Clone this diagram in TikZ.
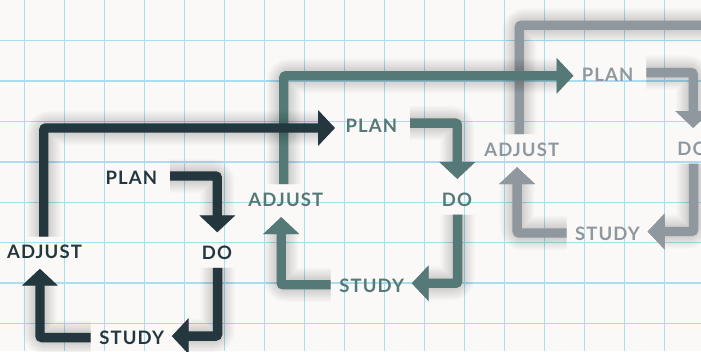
\documentclass[tikz,border=0pt]{standalone}
\usepackage{fontspec}
\setmainfont{Lato}
\usetikzlibrary{arrows.meta,calc}
\definecolor{bgc}{HTML}{FAF9F7}
\definecolor{gridc}{HTML}{A9DDF0}
\definecolor{cA}{HTML}{24373F}
\definecolor{cB}{HTML}{557976}
\definecolor{cC}{HTML}{8F989E}
\tikzset{
  lbl/.style={font=\fontsize{18.5}{18.5}\selectfont\bfseries\addfontfeatures{LetterSpace=6}, inner sep=0pt, text=#1},
  flow/.style={line width=9.3pt, rounded corners=2pt, line cap=butt, -{Triangle[length=17pt,width=35pt]}},
  flowplain/.style={line width=9.3pt, rounded corners=2pt, line cap=butt},
  shadowlayer/.style={draw=black, opacity=0.016, shift={(2.5,5)}, rounded corners=6pt},
  gridline/.style={draw=gridc, line width=1.5pt}
}
\newcommand\pdsaarrow[2]{%
  \foreach \k in {0,...,11}{\draw[flow, shadowlayer, line width=8pt+2.4*\k pt] #2;}
  \draw[flow, draw=#1] #2;}
\newcommand\pdsaline[2]{%
  \foreach \k in {0,...,11}{\draw[flowplain, shadowlayer, line width=8pt+2.4*\k pt] #2;}
  \draw[flowplain, draw=#1] #2;}
\begin{document}
\begin{tikzpicture}[x=1pt,y=-1pt]
\useasboundingbox (0,0) rectangle (701,351);
\clip (0,0) rectangle (701,351);
\fill[bgc] (0,0) rectangle (701,351);
\foreach \i in {0,...,17} \draw[gridline] (24.5+40*\i,0) -- (24.5+40*\i,351);
\foreach \j in {1,...,8} \draw[gridline] (0,0.1+40.44*\j) -- (701,0.1+40.44*\j);

% labels
\node[lbl=cA] (plan1) at (131.3,178.3) {PLAN};
\node[lbl=cA] (do1) at (217,253.3) {DO};
\node[lbl=cA] (study1) at (131.7,338.3) {STUDY};
\node[lbl=cA] (adj1) at (44.5,251.7) {ADJUST};

\node[lbl=cB] (plan2) at (371.3,125.5) {PLAN};
\node[lbl=cB] (do2) at (457,200) {DO};
\node[lbl=cB] (study2) at (371.7,285.5) {STUDY};
\node[lbl=cB] (adj2) at (285.8,200) {ADJUST};

\node[lbl=cC] (plan3) at (607.5,75) {PLAN};
\node[lbl=cC] (do3) at (692.4,149) {DO};
\node[lbl=cC] (study3) at (607.5,233.7) {STUDY};
\node[lbl=cC] (adj3) at (521.7,150) {ADJUST};
\coordinate (c3end) at (720,25.3);

% cycle 3
\pdsaarrow{cC}{($(plan3)+(38.8,-2.4)$) -| ($(do3)+(0.8,-21)$)}
\pdsaarrow{cC}{($(do3)+(1.2,14.6)$) |- ($(study3)+(40,-2.2)$)}
\pdsaarrow{cC}{($(study3)+(-41,-0.7)$) -| ($(adj3)+(-4.6,17)$)}
\pdsaline{cC}{($(adj3)+(-2.4,-16)$) |- (c3end)}
% cycle 2
\pdsaarrow{cB}{($(plan2)+(38.8,-2.4)$) -| ($(do2)+(0.3,-21)$)}
\pdsaarrow{cB}{($(do2)+(0.6,14.6)$) |- ($(study2)+(40,-2.2)$)}
\pdsaarrow{cB}{($(study2)+(-41,-0.7)$) -| ($(adj2)+(-4.6,17)$)}
\pdsaarrow{cB}{($(adj2)+(-2,-16)$) |- ($(plan3)+(-34,0.8)$)}
% cycle 1
\pdsaarrow{cA}{($(plan1)+(38.8,-2.4)$) -| ($(do1)+(0.3,-21)$)}
\pdsaarrow{cA}{($(do1)+(0.6,14.6)$) |- ($(study1)+(40,-2.2)$)}
\pdsaarrow{cA}{($(study1)+(-41,-0.7)$) -| ($(adj1)+(-4.6,17)$)}
\pdsaarrow{cA}{($(adj1)+(-0.7,-15)$) |- ($(plan2)+(-36.3,2.5)$)}
\end{tikzpicture}
\end{document}
